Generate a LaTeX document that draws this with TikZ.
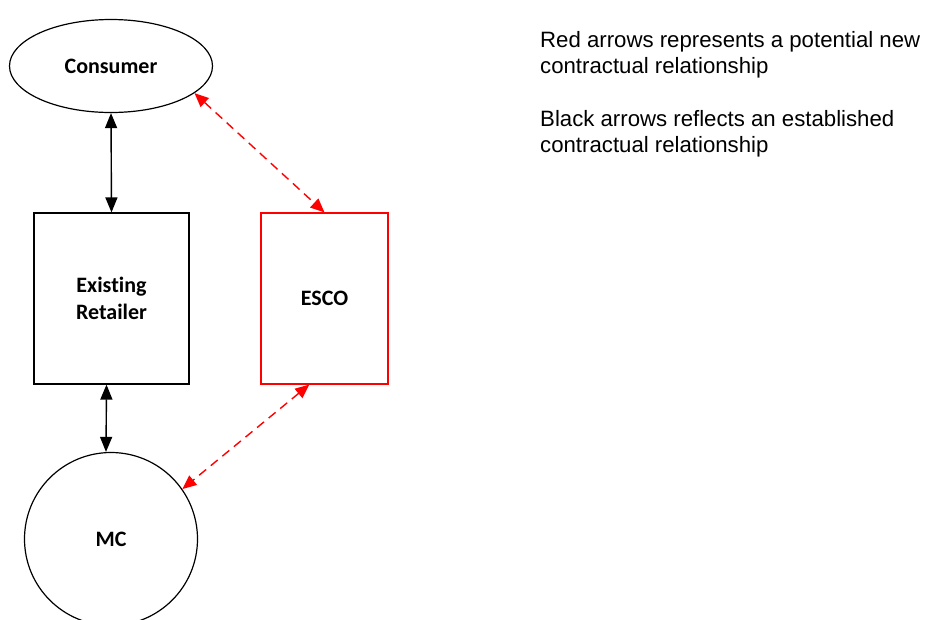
\documentclass[tikz,border=0pt]{standalone}
\usepackage{fontspec}
\setmainfont{Liberation Sans}
\newfontfamily\boxfont[Ligatures=NoCommon]{Carlito}
\usetikzlibrary{shapes.geometric,arrows.meta}

\begin{document}
\begin{tikzpicture}[
				x=1pt, y=-1pt,                            % ein Pixel des Bildes = 1pt, y nach unten
				>={Triangle[length=15pt,width=12pt]},
				party/.style={draw, line width=1.2pt, font=\boxfont\bfseries\fontsize{22}{27}\selectfont, align=center},
				known/.style={<->, line width=1.4pt},      % bestehender Vertrag
				new/.style={<->, line width=1.4pt, red, dashed, dash pattern=on 9pt off 6pt,
					>={Triangle[length=14pt,width=12pt]}}, % moeglicher neuer Vertrag
				note/.style={anchor=base west, align=left, inner sep=0pt,
					font=\fontsize{22.2}{26}\selectfont}
				]
				\useasboundingbox (0,0) rectangle (925,619);
				\node[party, ellipse, minimum width=203pt, minimum height=93pt] (consumer) at (111,66) {Consumer};
				\node[party, rectangle, minimum width=155pt, minimum height=171pt] (retailer) at (111.5,298.5) {Existing\\Retailer};
				\node[party, rectangle, red, text=black, minimum width=127pt, minimum height=171pt] (esco) at (324.5,298.5) {ESCO};
				\node[party, circle, minimum size=173pt] (mc) at (111,539) {MC};

				\draw[known] (consumer.south) -- (retailer.north);
				\draw[known] ([xshift=-5pt]retailer.south) -- ([xshift=-5pt]mc.north);
				\draw[new] (consumer.-18) -- (esco.north);
				\draw[new] (esco.-100) -- (mc.35);

				% base = Grundlinie der letzten Zeile
				\node[note] (legendred) at (540,73) {Red arrows represents a potential new\\contractual relationship};
				\node[note] (legendblack) at (540,152) {Black arrows reflects an established\\contractual relationship};
			\end{tikzpicture}
\end{document}
